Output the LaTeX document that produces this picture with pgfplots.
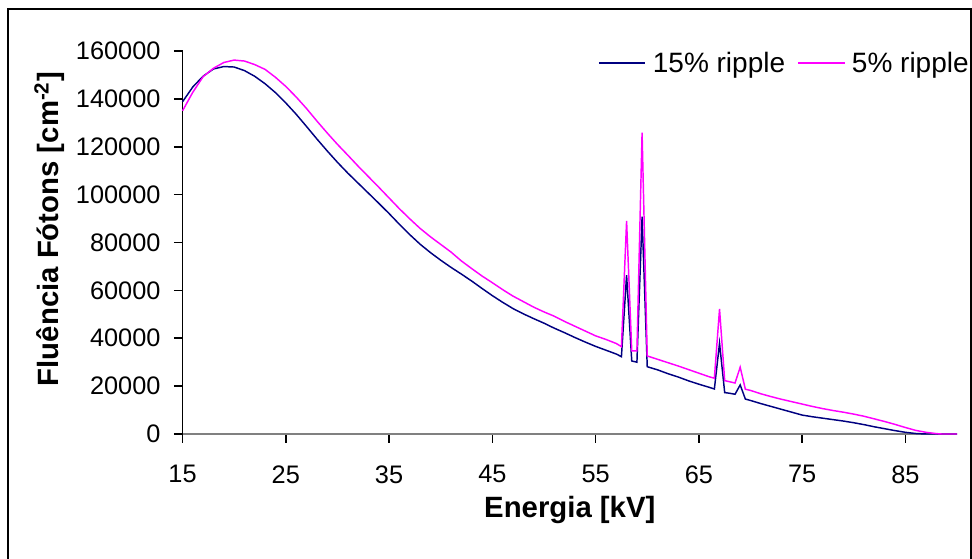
\documentclass[border=0pt]{standalone}
\usepackage{fontspec}
\setmainfont{Liberation Sans}
\usepackage{pgfplots}
\usepackage{pgfplotstable}
\pgfplotsset{compat=1.18}

\definecolor{navyline}{RGB}{0,0,128}
\definecolor{magline}{RGB}{255,0,255}

% 15% ripple
\pgfplotstableread{
x y
15 138800
16 145000
17 149500
18 152500
19 153500
20 153300
21 151800
22 149400
23 146300
24 142600
25 138300
26 133600
27 128500
28 123300
29 118300
30 113500
31 109000
32 104800
33 100600
34 96400
35 92100
36 87600
37 83300
38 79300
39 75800
40 72600
41 69600
42 66800
43 63900
44 60800
45 57800
46 55000
47 52400
48 50200
49 48200
50 46300
51 44200
52 42300
53 40300
54 38400
55 36600
56 35000
57 33400
57.5 32300
58 66400
58.5 30500
59 30000
59.5 90800
60 28100
61 26800
62 25200
63 23800
64 22200
65 20800
66 19500
66.5 18800
67 37900
67.5 17300
68 17000
68.5 16600
69 20500
69.5 14600
70 14000
71 12700
72 11500
73 10300
74 9100
75 7900
76 7200
77 6600
78 6000
79 5400
80 4700
81 3900
82 3000
83 2200
84 1400
85 700
86 200
87 0
88 0
89 0
90 0
}\ripplefifteen

% 5% ripple
\pgfplotstableread{
x y
15 135000
16 142800
17 149300
18 152800
19 155200
20 156200
21 155800
22 154300
23 152300
24 149000
25 145200
26 140800
27 136000
28 130800
29 125800
30 121000
31 116500
32 111900
33 107500
34 103100
35 98600
36 94100
37 89900
38 85900
39 82400
40 79200
41 76000
42 72300
43 69100
44 66000
45 63200
46 60300
47 57600
48 55300
49 53000
50 51000
51 49200
52 47000
53 45000
54 43000
55 41000
56 39500
57 37800
57.5 36500
58 89000
58.5 34700
59 34700
59.5 125900
60 32600
61 31200
62 29800
63 28400
64 26900
65 25400
66 23900
66.5 23300
67 52200
67.5 22300
68 21800
68.5 21300
69 27900
69.5 18700
70 18200
71 16800
72 15600
73 14500
74 13500
75 12500
76 11500
77 10600
78 9800
79 9100
80 8300
81 7400
82 6300
83 5200
84 4000
85 2700
86 1500
87 700
88 150
88.5 0
89 0
90 0
}\ripplefive

\begin{document}
\begin{tikzpicture}
% page = 972 x 559 px at 0.75pt per px
\useasboundingbox (0,0) rectangle (729pt,419.25pt);
% outer chart frame (open at the bottom)
\draw[black, line width=1.3pt] (6pt,0pt) -- (6pt,412.5pt) -- (728.2pt,412.5pt) -- (728.2pt,0pt);
\begin{axis}[
    at={(136.9pt,93.75pt)},
    anchor=south west,
    scale only axis,
    width=580.9pt,
    height=287.25pt,
    xmin=15, xmax=90,
    ymin=0, ymax=160000,
    xtick={15,25,35,45,55,65,75,85},
    xticklabels={15,25,35,45,55,65,75,85},
    ytick={0,20000,40000,60000,80000,100000,120000,140000,160000},
    yticklabels={0,20000,40000,60000,80000,100000,120000,140000,160000},
    axis x line=bottom,
    axis y line=left,
    x axis line style={-, draw=gray, line width=2.2pt},
    y axis line style={-, draw=black, line width=1.3pt},
    tick align=outside,
    major tick length=6.5pt,
    tick style={black, line width=1.2pt},
    scaled y ticks=false,
    tick label style={font=\fontsize{19}{21}\selectfont},
    yticklabel style={xshift=-6.5pt},
    xticklabel style={yshift=-13.5pt},
    xlabel={\textbf{Energia [kV]}},
    ylabel={\textbf{Fluência Fótons [cm\textsuperscript{-2}]}},
    label style={font=\fontsize{22}{26}\selectfont},
    xlabel style={at={(axis description cs:0.5,0)}, anchor=center, yshift=-57pt},
    ylabel style={yshift=1.5pt, xshift=10pt},
    legend columns=2,
    legend style={at={(1.024,1.012)}, anchor=north east, draw=none, fill=none,
        font=\fontsize{21}{25}\selectfont,
        /tikz/every odd column/.append style={column sep=3pt},
        /tikz/every even column/.append style={column sep=7pt}},
    legend image code/.code={\draw[#1, line width=1.1pt] (0pt,0pt) -- (35pt,0pt);},
    clip=false,
]
\addplot[navyline, line width=1.1pt] table[x=x, y=y] {\ripplefifteen};
\addlegendentry{15\% ripple}
\addplot[magline, line width=1.1pt] table[x=x, y=y] {\ripplefive};
\addlegendentry{5\% ripple}
\end{axis}
\end{tikzpicture}
\end{document}
